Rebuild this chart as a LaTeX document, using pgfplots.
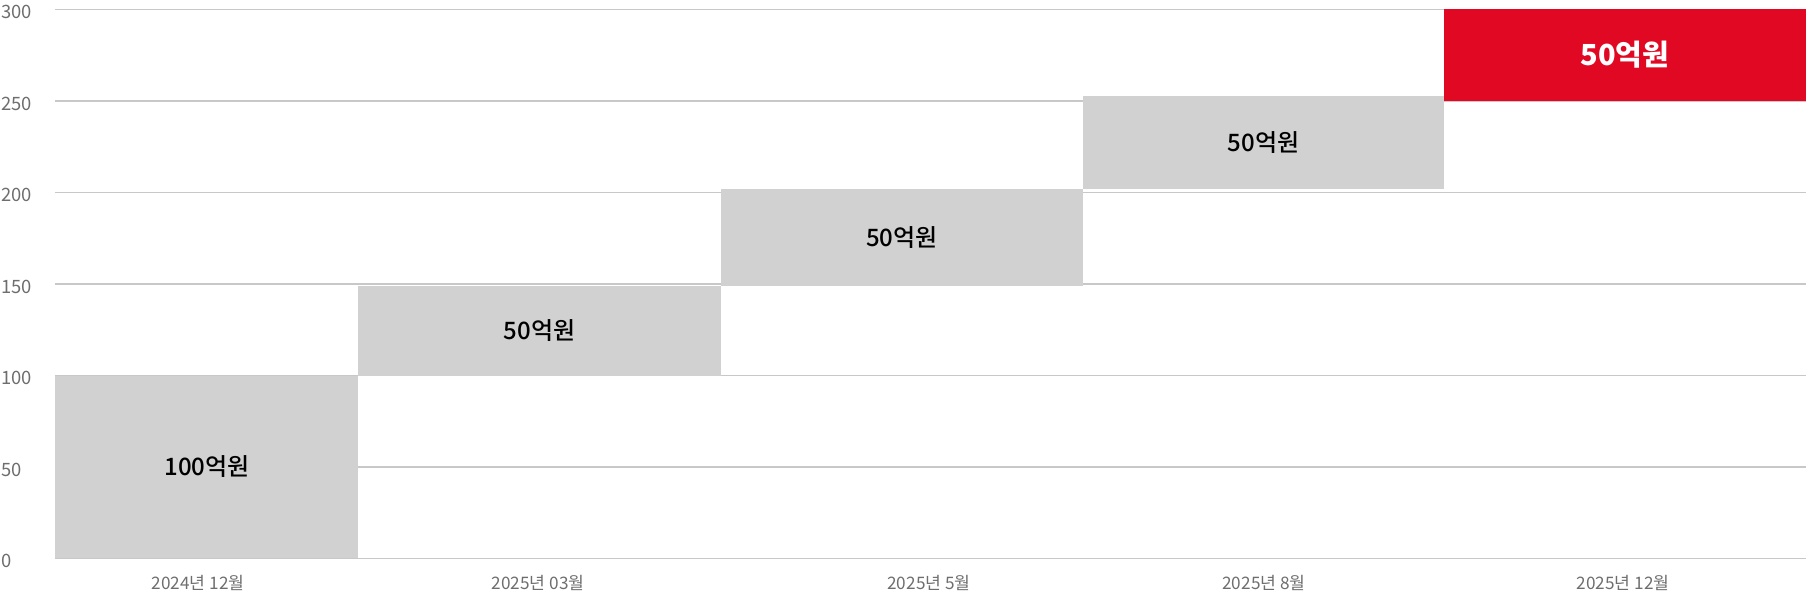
\documentclass[border=0pt]{standalone}
\usepackage{fontspec}
\setmainfont{Noto Sans CJK KR}
\newfontfamily\krmed{Noto Sans CJK KR Medium}
\usepackage{pgfplots}
\pgfplotsset{compat=1.18}
\definecolor{barg}{HTML}{D2D1D2}
\definecolor{barr}{HTML}{E10823}
\definecolor{gridc}{HTML}{C8C8C8}
\definecolor{tickc}{HTML}{6E6E6E}
\begin{document}
\begin{tikzpicture}
\begin{axis}[
  scale only axis, width=875.5pt, height=274.5pt,
  xmin=55, xmax=1806, ymin=0, ymax=300,
  ytick={0,50,...,300},
  xtick={198,538,929,1264,1623},
  xticklabels={2024년 12월, 2025년 03월, 2025년 5월, 2025년 8월, 2025년 12월},
  ymajorgrids, grid style={gridc, line width=0.75pt},
  axis line style={draw=none},
  major tick length=0pt,
  tick label style={font=\fontsize{9.2}{10}\selectfont, text=tickc},
  /pgf/number format/assume math mode=true,
  yticklabel style={anchor=west, inner sep=0pt, xshift=-27pt, yshift=-1.5pt},
  xticklabel style={anchor=center, inner sep=0pt, yshift=-12.5pt, font=\fontsize{8.6}{10}\selectfont},
  clip=false,
]
% floating bars: left, right, bottom, top
\addplot[fill=barg, draw=none] coordinates {(55,0) (358,0) (358,99.8) (55,99.8)} -- cycle;
\addplot[fill=barg, draw=none] coordinates {(358,99.8) (721,99.8) (721,148.8) (358,148.8)} -- cycle;
\addplot[fill=barg, draw=none] coordinates {(721,148.8) (1083,148.8) (1083,201.8) (721,201.8)} -- cycle;
\addplot[fill=barg, draw=none] coordinates {(1083,201.8) (1444,201.8) (1444,252.6) (1083,252.6)} -- cycle;
\addplot[fill=barr, draw=none] coordinates {(1444,250) (1806,250) (1806,300) (1444,300)} -- cycle;
% labels
\addplot[draw=none, nodes near coords, point meta=explicit symbolic,
  nodes near coords align=center,
  every node near coord/.append style={font=\krmed\fontsize{12}{14}\selectfont, text=black}]
  coordinates {(207,50)[100억원] (539.5,124.3)[50억원] (902,175.3)[50억원] (1263.5,227.2)[50억원]};
\addplot[draw=none, nodes near coords, point meta=explicit symbolic,
  nodes near coords align=center,
  every node near coord/.append style={font=\bfseries\fontsize{14.5}{16}\selectfont, text=white}]
  coordinates {(1625,275)[50억원]};
\end{axis}
\pgfresetboundingbox
\path (-27.5pt,-18.85pt) rectangle (875.5pt,279.15pt);
\end{tikzpicture}
\end{document}
